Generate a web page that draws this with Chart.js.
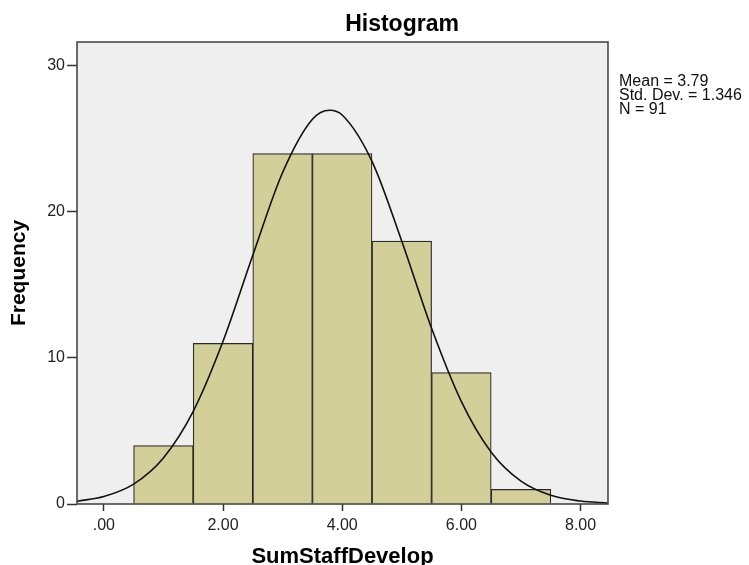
<!DOCTYPE html>
<html lang="en">
<head>
    <meta charset="UTF-8">
    <title>Histogram</title>
    <script src="https://cdn.jsdelivr.net/npm/chart.js"></script>
    <style>
        body {
            margin: 0;
            background: #ffffff;
        }
        .wrap {
            width: 749px;
            height: 565px;
        }
    </style>
</head>
<body>

<div class="wrap">
    <canvas id="histChart" width="749" height="565"></canvas>
</div>

<script>
    // Histogram bins (centre of each bin) and their counts
    const binCenters = [1, 2, 3, 4, 5, 6, 7];
    const binCounts = [4, 11, 24, 24, 18, 9, 1];

    // Normal curve
    const curveX = [-0.45, 0, 0.5, 1, 1.5, 2, 2.5, 3, 3.5, 3.79, 4, 4.5, 5, 5.5, 6, 6.5, 7, 7.5, 8, 8.45];
    const curveY = [0.19, 0.51, 1.36, 3.15, 6.34, 11.14, 17.04, 22.70, 26.35, 26.97, 26.64, 23.47, 18.00, 12.03, 7.01, 3.55, 1.57, 0.60, 0.20, 0.07];

    // Axis ticks
    const xTicks = [0, 2, 4, 6, 8];
    const xTickLabels = ['.00', '2.00', '4.00', '6.00', '8.00'];
    const yTicks = [0, 10, 20, 30];

    const statsLines = ['Mean = 3.79', 'Std. Dev. = 1.346', 'N = 91'];

    const FONT = 'Liberation Sans, Arial, sans-serif';

    // plot background, frame, title and stats text
    const framePlugin = {
        id: 'frame',
        beforeDraw(chart) {
            const { ctx, chartArea: a } = chart;
            ctx.save();
            ctx.fillStyle = '#efefef';
            ctx.fillRect(a.left, a.top, a.right - a.left, a.bottom - a.top);
            ctx.restore();
        },
        afterDraw(chart) {
            const { ctx, chartArea: a } = chart;
            ctx.save();
            ctx.strokeStyle = '#3c3c3c';
            ctx.lineWidth = 1.5;
            ctx.strokeRect(a.left, a.top, a.right - a.left, a.bottom - a.top);

            ctx.fillStyle = '#000';
            ctx.font = 'bold 23px ' + FONT;
            ctx.textAlign = 'center';
            ctx.textBaseline = 'alphabetic';
            ctx.fillText('Histogram', 402, 31);

            ctx.font = '16px ' + FONT;
            ctx.textAlign = 'left';
            ctx.fillStyle = '#111';
            statsLines.forEach((s, i) => ctx.fillText(s, 619, 86 + i * 14));
            ctx.restore();
        }
    };

    const ctx = document.getElementById('histChart').getContext('2d');
    const histChart = new Chart(ctx, {
        type: 'bar',
        data: {
            datasets: [{
                type: 'line',
                data: curveX.map((x, i) => ({ x: x, y: curveY[i] })),
                borderColor: '#111',
                borderWidth: 1.6,
                pointRadius: 0,
                fill: false,
                cubicInterpolationMode: 'monotone',
                order: 0
            }, {
                type: 'bar',
                data: binCenters.map((x, i) => ({ x: x, y: binCounts[i] })),
                backgroundColor: '#d3cf99',
                borderColor: '#2a2a2a',
                borderWidth: 1.2,
                barPercentage: 1,
                categoryPercentage: 1,
                order: 1
            }]
        },
        options: {
            responsive: false,
            animation: false,
            events: [],
            layout: {
                padding: { left: 0, right: 141, top: 42, bottom: 0 }
            },
            plugins: {
                legend: { display: false },
                tooltip: { enabled: false }
            },
            scales: {
                x: {
                    type: 'linear',
                    min: -0.45,
                    max: 8.46,
                    offset: false,
                    afterBuildTicks: s => { s.ticks = xTicks.map(v => ({ value: v })); },
                    afterFit: s => { s.height = 61; },
                    grid: {
                        offset: false,
                        drawOnChartArea: false,
                        drawTicks: true,
                        tickLength: 7,
                        tickColor: '#333',
                        tickWidth: 1.5
                    },
                    border: { display: false },
                    ticks: {
                        padding: 5,
                        color: '#222',
                        font: { family: FONT, size: 16 },
                        maxRotation: 0,
                        callback: v => xTickLabels[xTicks.indexOf(v)]
                    },
                    title: {
                        display: true,
                        text: 'SumStaffDevelop',
                        color: '#000',
                        font: { family: FONT, size: 22, weight: 'bold', lineHeight: 1 },
                        padding: { top: 0, bottom: -3 }
                    }
                },
                y: {
                    type: 'linear',
                    min: 0,
                    max: 31.64,
                    afterBuildTicks: s => { s.ticks = yTicks.map(v => ({ value: v })); },
                    afterFit: s => { s.width = 77; },
                    grid: {
                        drawOnChartArea: false,
                        drawTicks: true,
                        tickLength: 10,
                        tickColor: '#333',
                        tickWidth: 1.5
                    },
                    border: { display: false },
                    ticks: {
                        padding: 2,
                        color: '#222',
                        font: { family: FONT, size: 16 }
                    },
                    title: {
                        display: true,
                        text: 'Frequency',
                        color: '#000',
                        font: { family: FONT, size: 21, weight: 'bold', lineHeight: 1.2 },
                        padding: { top: 7, bottom: 0 }
                    }
                }
            }
        },
        plugins: [framePlugin]
    });
</script>

</body>
</html>
